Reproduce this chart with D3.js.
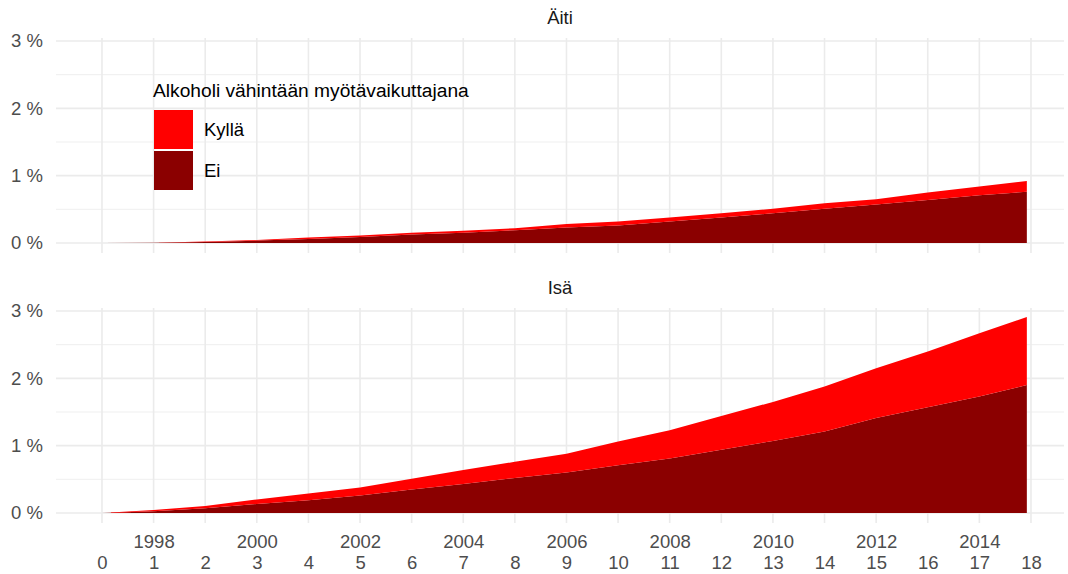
<!DOCTYPE html>
<html>
<head>
<meta charset="utf-8">
<script src="https://cdn.jsdelivr.net/npm/d3@7"></script>
<style>
  body { margin: 0; background: #fff; }
  svg { font-family: "Liberation Sans", Arial, Helvetica, sans-serif; }
  .tick text { fill: #4d4d4d; font-size: 18.5px; }
</style>
</head>
<body>
<svg id="chart" width="1068" height="574"></svg>
<script>
// age of child (years)
var ages = [0, 1, 2, 3, 4, 5, 6, 7, 8, 9, 10, 11, 12, 13, 14, 15, 16, 17, 17.92];

// Äiti (mother), share in %
var aitiEi    = [0, 0.004, 0.015, 0.035, 0.06, 0.09, 0.125, 0.15, 0.19, 0.23, 0.26, 0.32, 0.38, 0.44, 0.51, 0.57, 0.64, 0.71, 0.76];
var aitiKylla = [0, 0.001, 0.005, 0.01, 0.02, 0.02, 0.025, 0.03, 0.03, 0.05, 0.06, 0.06, 0.06, 0.07, 0.08, 0.08, 0.11, 0.13, 0.16];

// Isä (father), share in %
var isaEi    = [0, 0.025, 0.07, 0.134, 0.19, 0.26, 0.35, 0.43, 0.52, 0.60, 0.71, 0.81, 0.94, 1.07, 1.21, 1.41, 1.57, 1.73, 1.90];
var isaKylla = [0, 0.02, 0.034, 0.066, 0.10, 0.12, 0.16, 0.21, 0.24, 0.28, 0.35, 0.42, 0.50, 0.58, 0.67, 0.74, 0.83, 0.94, 1.01];

var ageTicks = d3.range(0, 19);
var yearTicks = [1998, 2000, 2002, 2004, 2006, 2008, 2010, 2012, 2014];
var firstYear = 1997; // year when age 0 -> 1997 + age
var yTicks = [0, 1, 2, 3];
var yMinor = [0.5, 1.5, 2.5];

var keys = ['Ei', 'Kyllä'];
var colors = { 'Kyllä': '#ff0000', 'Ei': '#8b0000' };

var panels = [
    { title: 'Äiti', ei: aitiEi, kylla: aitiKylla, top: 38, bottom: 253, titleY: 24 },
    { title: 'Isä', ei: isaEi, kylla: isaKylla, top: 308, bottom: 523, titleY: 294 }
];

var svg = d3.select('#chart');

var x = d3.scaleLinear()
    .domain([-0.891, 18.64])
    .range([56, 1064]);

panels.forEach(function(p) {
    var y = d3.scaleLinear()
        .domain([-0.149, 3.045])
        .range([p.bottom, p.top]);

    var g = svg.append('g');

    // grid
    g.selectAll('.minor')
        .data(yMinor)
        .enter()
        .append('line')
        .attr('x1', x.range()[0]).attr('x2', x.range()[1])
        .attr('y1', function(d) { return y(d); })
        .attr('y2', function(d) { return y(d); })
        .attr('stroke', '#ebebeb')
        .attr('stroke-width', 0.8);

    g.selectAll('.hmajor')
        .data(yTicks)
        .enter()
        .append('line')
        .attr('x1', x.range()[0]).attr('x2', x.range()[1])
        .attr('y1', function(d) { return y(d); })
        .attr('y2', function(d) { return y(d); })
        .attr('stroke', '#ebebeb')
        .attr('stroke-width', 1.6);

    g.selectAll('.vmajor')
        .data(ageTicks)
        .enter()
        .append('line')
        .attr('x1', function(d) { return x(d); })
        .attr('x2', function(d) { return x(d); })
        .attr('y1', p.top).attr('y2', p.bottom)
        .attr('stroke', '#ebebeb')
        .attr('stroke-width', 1.6);

    // stacked areas
    var rows = ages.map(function(a, i) {
        return { age: a, 'Ei': p.ei[i], 'Kyllä': p.kylla[i] };
    });
    var series = d3.stack().keys(keys)(rows);

    var area = d3.area()
        .x(function(d) { return x(d.data.age); })
        .y0(function(d) { return y(d[0]); })
        .y1(function(d) { return y(d[1]); });

    g.selectAll('.layer')
        .data(series)
        .enter()
        .append('path')
        .attr('d', area)
        .attr('fill', function(d) { return colors[d.key]; });

    // y axis
    var yAxis = g.append('g')
        .attr('transform', 'translate(' + x.range()[0] + ',0)')
        .call(d3.axisLeft(y)
            .tickValues(yTicks)
            .tickSize(0)
            .tickPadding(13)
            .tickFormat(function(d) { return d + ' %'; }));
    yAxis.select('.domain').remove();

    // facet title
    g.append('text')
        .attr('x', (x.range()[0] + x.range()[1]) / 2)
        .attr('y', p.titleY)
        .attr('text-anchor', 'middle')
        .attr('font-size', 18.5)
        .attr('fill', '#1a1a1a')
        .text(p.title);
});

// bottom x axis: years row and age row
var yearAxis = svg.append('g')
    .attr('transform', 'translate(0,523)')
    .call(d3.axisBottom(x)
        .tickValues(yearTicks.map(function(yr) { return yr - firstYear; }))
        .tickSize(0)
        .tickPadding(12)
        .tickFormat(function(d) { return d + firstYear; }));
yearAxis.select('.domain').remove();

var ageAxis = svg.append('g')
    .attr('transform', 'translate(0,544)')
    .call(d3.axisBottom(x)
        .tickValues(ageTicks)
        .tickSize(0)
        .tickPadding(12)
        .tickFormat(function(d) { return d; }));
ageAxis.select('.domain').remove();

// legend
var legend = svg.append('g').attr('transform', 'translate(153,0)');
legend.append('text')
    .attr('x', 0).attr('y', 97)
    .attr('font-size', 19.2)
    .attr('fill', '#000')
    .text('Alkoholi vähintään myötävaikuttajana');

var legendKeys = ['Kyllä', 'Ei'];
legend.selectAll('.key')
    .data(legendKeys)
    .enter()
    .append('rect')
    .attr('x', 1)
    .attr('y', function(d, i) { return 110 + i * 41; })
    .attr('width', 39)
    .attr('height', 39)
    .attr('fill', function(d) { return colors[d]; });

legend.selectAll('.lab')
    .data(legendKeys)
    .enter()
    .append('text')
    .attr('x', 51)
    .attr('y', function(d, i) { return 136 + i * 41; })
    .attr('font-size', 18.5)
    .attr('fill', '#000')
    .text(function(d) { return d; });
</script>
</body>
</html>
